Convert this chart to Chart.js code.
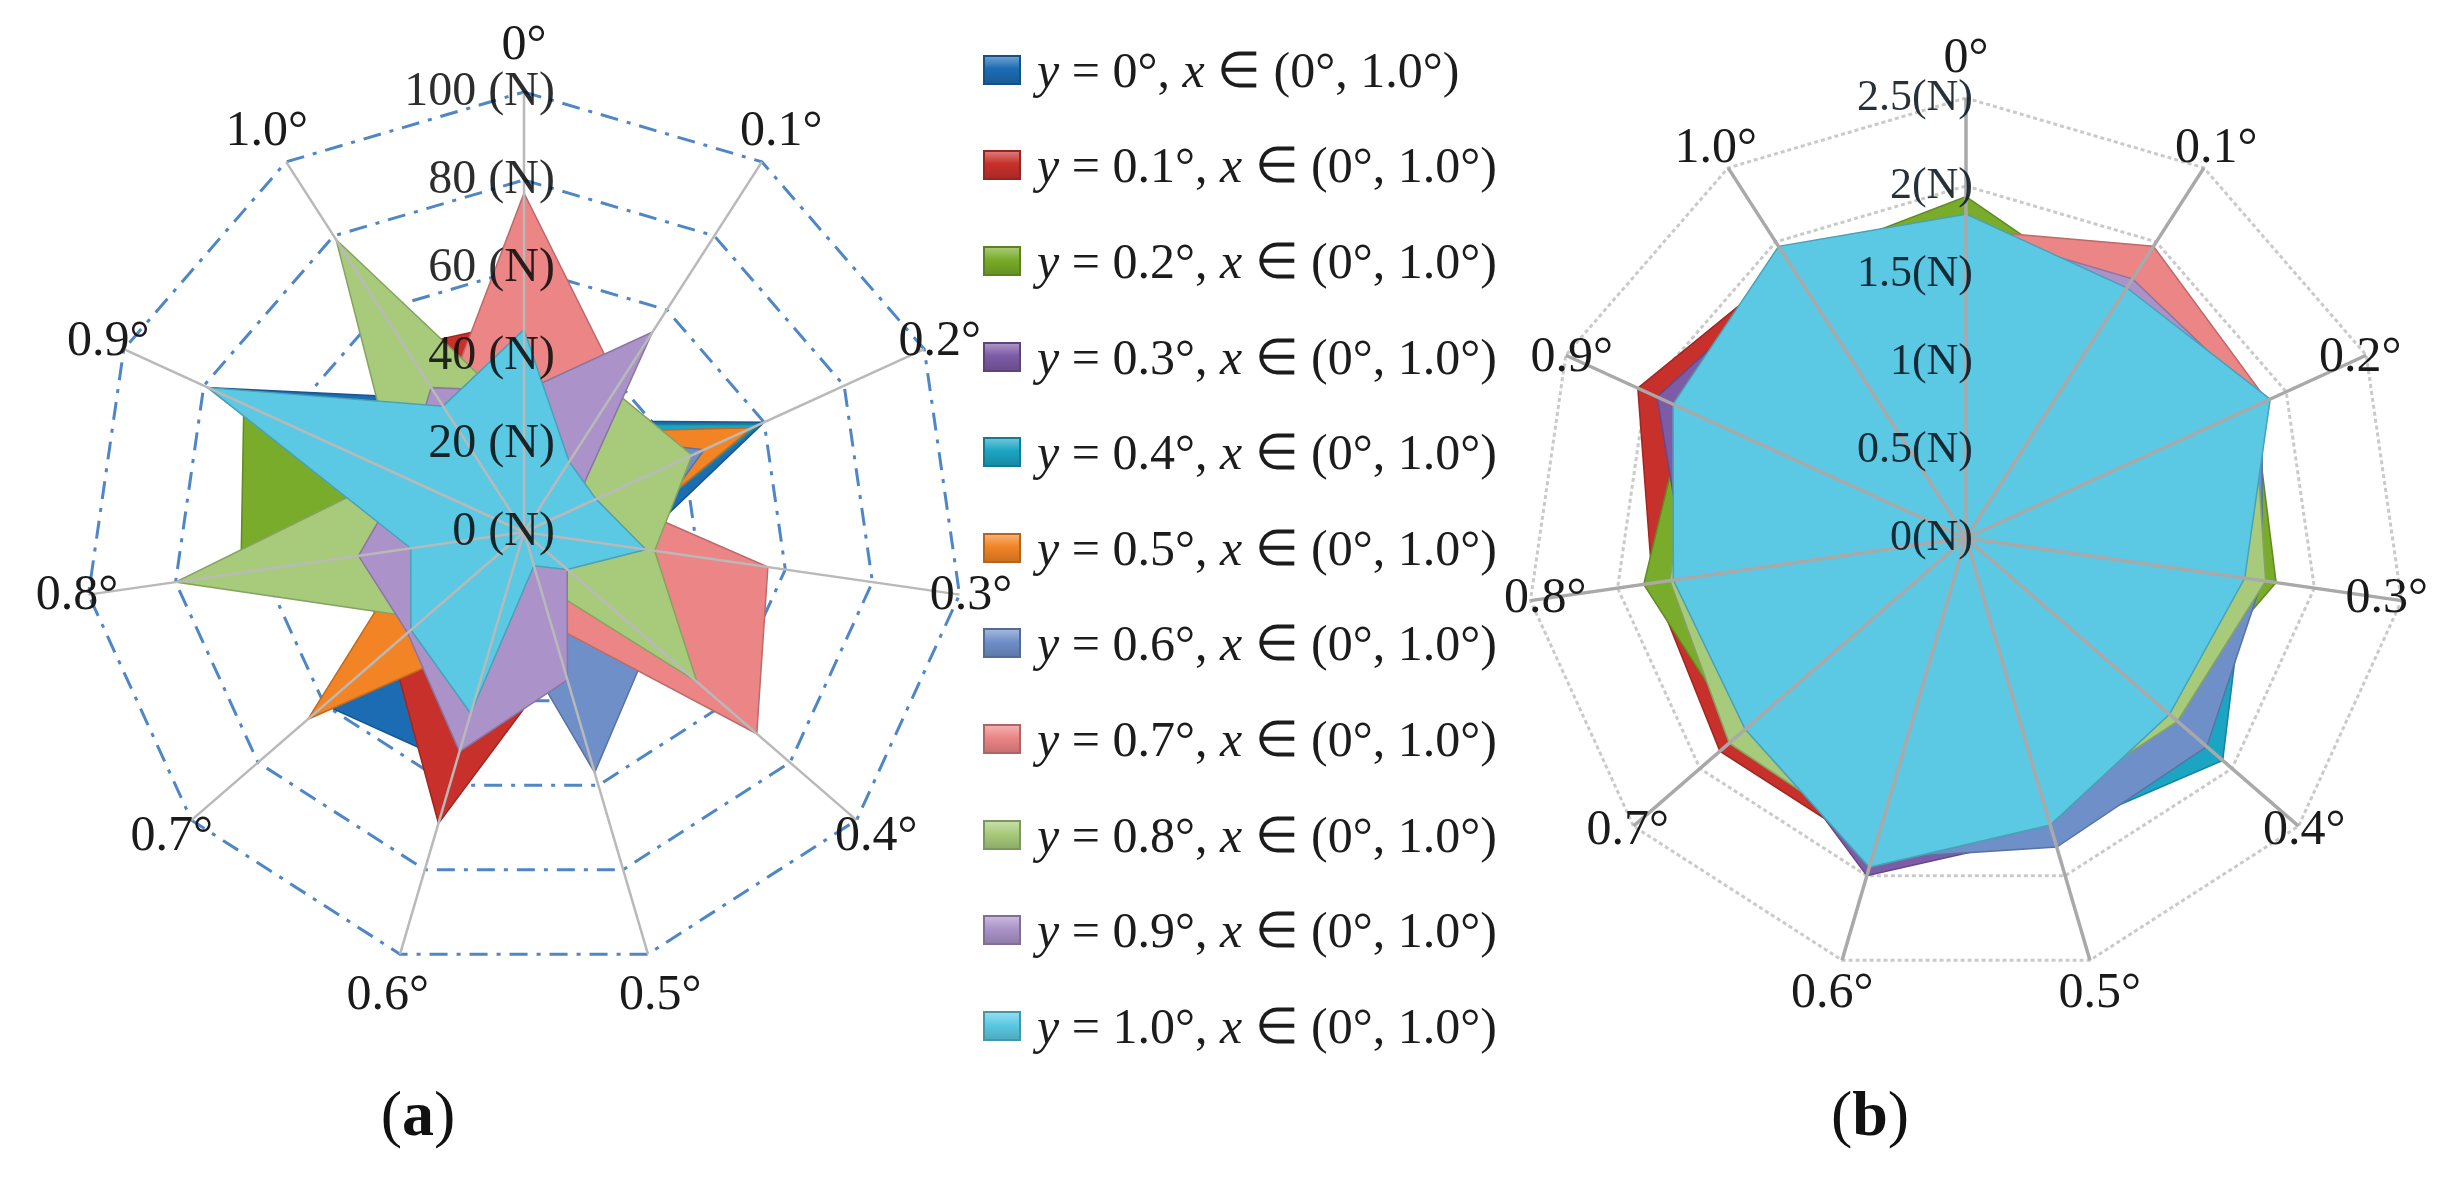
<!DOCTYPE html>
<html>
<head>
<meta charset="utf-8">
<script src="https://cdn.jsdelivr.net/npm/chart.js@4.4.0/dist/chart.umd.min.js"></script>
<style>
  html, body { margin: 0; padding: 0; background: #fff; overflow: hidden; }
  body { width: 2443px; height: 1202px; position: relative; font-family: 'Liberation Serif', 'Times New Roman', serif; }
  canvas { position: absolute; }
  #chartA { left: -26px; top: -18px; }
  #chartB { left: 1416px; top: -12px; }
  .legend { position: absolute; left: 983px; top: 22px; }
  .legend-row { height: 95.6px; display: flex; align-items: center; font-size: 50px; color: #1c1c1c; white-space: nowrap; }
  .legend-box { width: 38px; height: 30px; margin-right: 16px; box-sizing: border-box; border: 2px solid; }
  .panel-tag { position: absolute; top: 1074px; width: 200px; line-height: 80px; text-align: center; font-size: 64px; color: #111; }
</style>
</head>
<body>
<canvas id="chartA" width="1100" height="1100"></canvas>
<div class="legend" id="legend"></div>
<canvas id="chartB" width="1100" height="1100"></canvas>
<div class="panel-tag" style="left:318px">(<b>a</b>)</div>
<div class="panel-tag" style="left:1770px">(<b>b</b>)</div>
<script>
'use strict';

// spokes (x angle) and series (y angle)
const axisLabels = ['0°', '0.1°', '0.2°', '0.3°', '0.4°', '0.5°', '0.6°', '0.7°', '0.8°', '0.9°', '1.0°'];
const seriesNames = ['0°', '0.1°', '0.2°', '0.3°', '0.4°', '0.5°', '0.6°', '0.7°', '0.8°', '0.9°', '1.0°'];

// (a) force in N, one array per y
const aY00 = [30, 30, 60, 25, 20, 20, 55, 60, 25, 79, 36];
const aY01 = [48, 25, 30, 25, 20, 30, 69, 40, 35, 35, 50];
const aY02 = [20, 20, 35, 25, 30, 12, 15, 25, 65, 70, 30];
const aY03 = [25, 30, 25, 20, 15, 20, 30, 25, 25, 30, 25];
const aY04 = [25, 29, 59, 20, 18, 18, 30, 30, 25, 40, 25];
const aY05 = [25, 27, 57, 20, 18, 18, 25, 65, 25, 35, 25];
const aY06 = [25, 26, 45, 25, 38, 57, 19, 25, 25, 30, 25];
const aY07 = [77, 40, 20, 56, 70, 22, 20, 25, 30, 30, 34];
const aY08 = [26, 38, 42, 30, 52, 12, 20, 30, 80, 32, 79];
const aY09 = [32, 54, 12, 15, 13, 35, 52, 35, 38, 30, 39];
const aY10 = [46, 19, 18, 28, 13, 8, 43, 34, 26, 79, 34];

// (b) force in N
const bY00 = [1.70, 1.60, 1.80, 1.50, 1.60, 1.60, 1.80, 1.60, 1.60, 1.70, 1.80];
const bY01 = [1.75, 1.60, 1.80, 1.50, 1.50, 1.60, 1.85, 1.85, 1.80, 2.05, 1.85];
const bY02 = [1.94, 1.60, 1.80, 1.78, 1.50, 1.60, 1.80, 1.70, 1.85, 1.75, 1.85];
const bY03 = [1.70, 1.72, 1.85, 1.60, 1.75, 1.75, 2.00, 1.60, 1.60, 1.93, 1.80];
const bY04 = [1.70, 1.60, 1.85, 1.60, 1.93, 1.75, 1.85, 1.60, 1.60, 1.75, 1.80];
const bY05 = [1.70, 1.60, 1.80, 1.50, 1.60, 1.70, 1.80, 1.60, 1.60, 1.70, 1.80];
const bY06 = [1.70, 1.60, 1.85, 1.70, 1.81, 1.83, 1.90, 1.60, 1.60, 1.75, 1.80];
const bY07 = [1.75, 1.97, 1.88, 1.55, 1.50, 1.60, 1.80, 1.60, 1.60, 1.75, 1.85];
const bY08 = [1.75, 1.60, 1.80, 1.72, 1.59, 1.60, 1.80, 1.78, 1.70, 1.70, 1.85];
const bY09 = [1.75, 1.75, 1.85, 1.55, 1.50, 1.60, 1.90, 1.60, 1.60, 1.80, 1.85];
const bY10 = [1.84, 1.69, 1.90, 1.60, 1.53, 1.70, 1.95, 1.66, 1.68, 1.83, 1.97];

const ticksA = { max: 100, step: 20 };
const ticksB = { max: 2.5, step: 0.5 };

const valuesA = [aY00, aY01, aY02, aY03, aY04, aY05, aY06, aY07, aY08, aY09, aY10];
const valuesB = [bY00, bY01, bY02, bY03, bY04, bY05, bY06, bY07, bY08, bY09, bY10];

const palette = ['#1c6cb4', '#c8302b', '#79ac2a', '#7d5ba6', '#1ba5c3', '#f28426',
  '#6f8fc9', '#ec8585', '#a7cb7b', '#ab93c9', '#5bc9e3'];

const shade = function(hex, f){
  const n = parseInt(hex.slice(1), 16);
  const c = [(n >> 16) & 255, (n >> 8) & 255, n & 255].map(v => {
    return f < 1 ? Math.round(v * f) : Math.round(v + (255 - v) * (f - 1));
  });
  return `rgb(${c[0]},${c[1]},${c[2]})`;
};

// spokes, value labels and angle labels go on top of the filled areas
const radarOverlay = {
  id: 'radarOverlay',
  afterDatasetsDraw(chart, args, opts){
    const scale = chart.scales.r;
    const ctx = chart.ctx;
    ctx.save();
    ctx.strokeStyle = opts.spokeColor;
    ctx.lineWidth = opts.spokeWidth;
    chart.data.labels.forEach((label, i) => {
      const p = scale.getPointPositionForValue(i, scale.max);
      ctx.beginPath();
      ctx.moveTo(scale.xCenter, scale.yCenter);
      ctx.lineTo(p.x, p.y);
      ctx.stroke();
    });

    ctx.font = opts.tickFont;
    ctx.fillStyle = opts.tickColor;
    ctx.textAlign = 'right';
    ctx.textBaseline = 'middle';
    scale.ticks.forEach(t => {
      const y = scale.yCenter - scale.getDistanceFromCenterForValue(t.value);
      ctx.fillText(`${+t.value.toFixed(2)}${opts.unit}`, scale.xCenter + opts.tickShift, y);
    });

    ctx.font = '50px "Liberation Serif", serif';
    ctx.fillStyle = '#1a1a1a';
    ctx.textAlign = 'center';
    chart.data.labels.forEach((label, i) => {
      const a = scale.getIndexAngle(i);
      const d = scale.drawingArea + opts.labelBase + opts.labelExtra * Math.cos(a) ** 2;
      const p = scale.getPointPosition(i, d);
      ctx.fillText(label, p.x, p.y);
    });
    ctx.restore();
  }
};

const buildDatasets = function(values){
  return values.map((data, i) => ({
    label: 'y = ' + seriesNames[i],
    data: data,
    fill: true,
    backgroundColor: palette[i],
    borderColor: shade(palette[i], 0.8),
    borderWidth: 1.5,
    pointRadius: 0,
    order: values.length - 1 - i
  }));
};

const makeRadar = function(canvasId, values, ticks, grid, overlay){
  // eslint-disable-next-line no-undef
  return new Chart(document.getElementById(canvasId), {
    type: 'radar',
    data: { labels: axisLabels, datasets: buildDatasets(values) },
    options: {
      responsive: false,
      animation: false,
      layout: { padding: 110 },
      elements: { line: { tension: 0, borderJoinStyle: 'miter' } },
      plugins: { legend: { display: false }, tooltip: { enabled: false }, radarOverlay: overlay },
      scales: {
        r: {
          min: 0,
          max: ticks.max,
          ticks: { display: false, stepSize: ticks.step },
          pointLabels: { display: false },
          angleLines: { display: false },
          grid: { color: grid.color, lineWidth: grid.width },
          border: { dash: grid.dash }
        }
      }
    },
    plugins: [radarOverlay]
  });
};

makeRadar('chartA', valuesA, ticksA,
  { color: '#4f86c6', width: 3, dash: [18, 9, 4, 9] },
  { spokeColor: '#b9b9b9', spokeWidth: 2.5, tickFont: '48px "Liberation Serif", serif',
    tickColor: 'rgba(8,8,8,0.85)', unit: ' (N)', tickShift: 31, labelBase: 11, labelExtra: 35 });

makeRadar('chartB', valuesB, ticksB,
  { color: '#cacaca', width: 3, dash: [4, 3] },
  { spokeColor: '#a9a9a9', spokeWidth: 3.5, tickFont: '44px "Liberation Serif", serif',
    tickColor: 'rgba(8,20,30,0.88)', unit: '(N)', tickShift: 7, labelBase: -16, labelExtra: 55 });

// legend between the two panels
const legendEl = document.getElementById('legend');
seriesNames.forEach((name, i) => {
  const row = document.createElement('div');
  row.className = 'legend-row';
  const box = document.createElement('span');
  box.className = 'legend-box';
  box.style.background = `linear-gradient(to bottom, ${shade(palette[i], 1.35)}, ${palette[i]} 45%, ${shade(palette[i], 0.85)})`;
  box.style.borderColor = shade(palette[i], 0.75);
  const text = document.createElement('span');
  text.innerHTML = `<i>y</i> = ${name}, <i>x</i> ∈ (0°, 1.0°)`;
  row.appendChild(box);
  row.appendChild(text);
  legendEl.appendChild(row);
});
</script>
</body>
</html>
